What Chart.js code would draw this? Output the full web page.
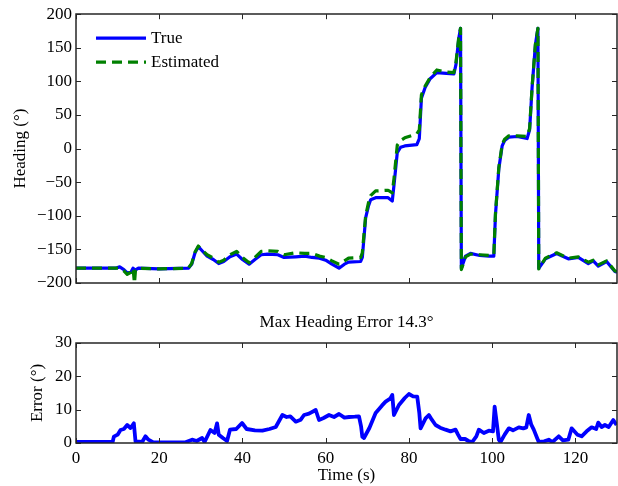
<!DOCTYPE html>
<html><head><meta charset="utf-8">
<script src="https://cdn.jsdelivr.net/npm/chart.js@4"></script>
<style>
html,body{margin:0;padding:0;background:#fff;}
#wrap{position:relative;width:618px;height:486px;background:#fff;}
#c1{position:absolute;left:0;top:0;}
#c2{position:absolute;left:0;top:300px;}
</style></head><body>
<div id="wrap">
<canvas id="c1" width="618" height="300" style="width:618px;height:300px"></canvas>
<canvas id="c2" width="618" height="186" style="width:618px;height:186px"></canvas>
</div>
<script>
// ---------- data ----------
const xTicks = [0, 20, 40, 60, 80, 100, 120];
const headingTicks = [-200, -150, -100, -50, 0, 50, 100, 150, 200];
const errorTicks = [0, 10, 20, 30];

const timeTrue = [0, 9.5, 10.5, 11.5, 12.3, 13.2, 13.7, 14.2, 15, 20, 27, 27.8, 28.6, 29.4, 30.3, 31.5, 33, 34.3, 35.5, 37, 38.6, 40, 41.6, 43, 44.5, 46, 48.5, 50, 52.8, 55, 56.7, 58.5, 60, 61.5, 63.2, 64.5, 65.5, 68.4, 68.8, 69.6, 70.3, 70.8, 72, 75, 76, 76.4, 77.2, 78, 79, 81.9, 82.5, 83, 83.9, 85.1, 86.7, 89, 90.8, 91.3, 92, 92.4, 92.6, 93.6, 94.8, 97, 99.2, 100.4, 100.8, 101.6, 102.4, 103, 104, 106, 108.4, 109, 109.6, 110.4, 111, 111.2, 112.8, 115.5, 118.3, 120.7, 123.1, 124.3, 125.5, 127.5, 129.5, 130];
const headingTrue = [-178, -178, -176, -180, -185, -184, -178, -181, -178, -179, -178, -172, -155, -146, -152, -160, -165, -171, -168, -161, -157, -165, -172, -165, -158, -157, -158, -162, -161, -160, -162, -163, -166, -172, -178, -172, -169, -168, -162, -103, -85, -76, -73, -73, -78, -55, -6, 2, 4, 6, 15, 75, 91, 104, 113, 112, 111, 125, 165, 179, -178, -160, -156, -159, -160, -160, -98, -30, 4, 12, 17, 18, 15, 28, 91, 155, 179, -178, -164, -156, -164, -162, -171, -167, -175, -168, -183, -184];

const timeEst = [0, 9.5, 10.5, 11.5, 12.3, 13.2, 13.7, 14.05, 14.3, 15, 20, 27, 27.8, 28.6, 29.4, 30.3, 31.5, 33, 34.3, 35.5, 37, 38.6, 40, 41.6, 43, 44.5, 46, 48.5, 50, 52.8, 55, 56.7, 58.5, 60, 61.5, 63.2, 64.5, 65.5, 68.4, 68.8, 69.6, 70.3, 70.8, 72, 75, 76, 76.4, 77.2, 78, 79, 81.9, 82.5, 83, 83.9, 85.1, 86.7, 89, 90.8, 91.3, 92, 92.4, 92.6, 93.6, 94.8, 97, 99.2, 100.4, 100.8, 101.6, 102.4, 103, 104, 106, 108.4, 109, 109.6, 110.4, 111, 111.2, 112.8, 115.5, 118.3, 120.7, 123.1, 124.3, 125.5, 127.5, 129.5, 130];
const headingEst = [-178, -178, -178, -182, -187, -184, -178, -200, -181, -178, -179, -178, -171, -154, -145, -151, -158, -163, -169, -166, -158, -153, -162, -170, -162, -153, -152, -153, -158, -155, -156, -156, -160, -162, -167, -172, -167, -163, -162, -155, -100, -80, -70, -63, -62, -66, -45, 5, 12, 16, 22, 28, 80, 93, 106, 117, 114, 113, 128, 167, 179, -180, -161, -157, -158, -159, -158, -96, -28, 6, 14, 19, 19, 18, 30, 92, 156, 179, -179, -163, -155, -163, -161, -169, -166, -173, -167, -182, -183];

const timeErr = [0, 8.8, 9.1, 10.0, 10.7, 11.5, 12.3, 13.1, 13.9, 14.3, 15.9, 16.7, 17.4, 18.6, 26.3, 27.9, 29, 30.3, 30.9, 32.3, 33.3, 33.9, 34.3, 35.3, 36.3, 37, 38.5, 39.9, 41, 43, 44.8, 46.5, 48, 49.6, 50.6, 51.5, 52.8, 54, 54.8, 56, 57.6, 58.4, 59.5, 60.8, 62, 63.2, 64.5, 65.6, 67, 68, 68.5, 68.8, 69.2, 70.5, 72, 73.5, 74.4, 75.5, 76, 76.4, 77.6, 79, 80, 81, 82, 82.5, 82.8, 84, 84.8, 85.5, 86.4, 87.5, 88.8, 90, 91.2, 91.8, 92.4, 93.5, 94.3, 95.2, 96.2, 96.8, 98, 99.2, 100.2, 100.6, 101.1, 101.6, 102, 103, 104, 105, 106.4, 107.5, 108.2, 108.8, 109.4, 110, 110.8, 111.2, 112.5, 113.6, 114.5, 116, 117, 118.3, 119.1, 120.5, 121.5, 122.7, 123.9, 125, 125.5, 126.3, 127.1, 128, 129.1, 129.9];
const errorVals = [0.3, 0.3, 1.9, 2.5, 3.9, 4.2, 5.4, 4.5, 5.9, 0.5, 0.3, 2.0, 1.0, 0.2, 0.2, 1.0, 0.6, 1.5, 0.3, 3.9, 3.0, 5.9, 2.5, 1.5, 0.6, 4.0, 4.2, 6.0, 4.2, 3.8, 3.7, 4.2, 4.8, 8.4, 7.8, 8.0, 6.4, 7.0, 8.4, 8.8, 9.9, 6.9, 7.5, 8.4, 7.8, 8.7, 7.6, 7.8, 7.9, 8.0, 5.0, 1.9, 1.5, 4.5, 9.0, 11.2, 12.4, 13.3, 14.4, 8.4, 11.4, 13.5, 14.7, 14.0, 13.9, 9.0, 4.4, 7.4, 8.4, 7.0, 5.4, 4.6, 4.0, 3.5, 4.0, 2.5, 1.2, 1.2, 0.6, 0.3, 2.0, 4.0, 3.0, 3.7, 3.5, 10.9, 6.0, 1.0, 0.3, 2.5, 4.4, 3.8, 4.7, 4.4, 4.7, 8.4, 5.5, 4.0, 1.5, 0.3, 0.5, 1.0, 0.3, 2.0, 0.8, 1.0, 4.4, 2.5, 2.0, 3.5, 4.7, 4.2, 6.1, 4.8, 5.4, 4.8, 6.9, 5.4];

const titleText = 'Max Heading Error 14.3°';

// ---------- helpers ----------
const FONT = "'Liberation Serif', 'Times New Roman', serif";
Chart.defaults.font.family = FONT;
Chart.defaults.font.size = 17;
Chart.defaults.color = '#000';
const pts = (xs, ys) => xs.map((x, i) => ({x: x, y: ys[i]}));
const fmt = v => (v < 0 ? '\u2212' + Math.abs(v) : String(v));
const setTicks = arr => (scale) => { scale.ticks = arr.map(v => ({value: v})); };

const framePlugin = {
  id: 'frame',
  afterDraw(chart) {
    const {ctx, chartArea: a} = chart;
    const xs = chart.scales.x, ys = chart.scales.y;
    const L = 5;
    ctx.save();
    ctx.strokeStyle = '#262626';
    ctx.lineWidth = 1;
    ctx.beginPath();
    xs.ticks.forEach(t => {
      const p = Math.round(xs.getPixelForValue(t.value)) + 0.5;
      ctx.moveTo(p, a.bottom); ctx.lineTo(p, a.bottom - L);
      ctx.moveTo(p, a.top); ctx.lineTo(p, a.top + L);
    });
    ys.ticks.forEach(t => {
      const p = Math.round(ys.getPixelForValue(t.value)) + 0.5;
      ctx.moveTo(a.left, p); ctx.lineTo(a.left + L, p);
      ctx.moveTo(a.right, p); ctx.lineTo(a.right - L, p);
    });
    ctx.stroke();
    ctx.lineWidth = 1.5;
    ctx.strokeRect(Math.round(a.left), Math.round(a.top), Math.round(a.right - a.left), Math.round(a.bottom - a.top));
    ctx.restore();
  }
};

const legendPlugin = {
  id: 'inlegend',
  afterDraw(chart) {
    const {ctx, chartArea: a} = chart;
    const x0 = a.left + 20, x1 = a.left + 70, tx = a.left + 75;
    const rows = [a.top + 24, a.top + 48];
    ctx.save();
    chart.data.datasets.forEach((ds, i) => {
      const y = rows[i];
      ctx.strokeStyle = ds.borderColor;
      ctx.lineWidth = ds.borderWidth;
      ctx.setLineDash(ds.borderDash || []);
      ctx.beginPath(); ctx.moveTo(x0, y); ctx.lineTo(x1, y); ctx.stroke();
      ctx.setLineDash([]);
      ctx.fillStyle = '#000';
      ctx.font = '17px ' + FONT;
      ctx.textBaseline = 'middle';
      ctx.textAlign = 'left';
      ctx.fillText(ds.label, tx, y);
    });
    ctx.restore();
  }
};

// ---------- top chart ----------
new Chart(document.getElementById('c1'), {
  type: 'line',
  data: {
    datasets: [
      {label: 'True', data: pts(timeTrue, headingTrue), borderColor: '#0000ff', borderWidth: 3.2, borderJoinStyle: 'round', pointRadius: 0, tension: 0, order: 2},
      {label: 'Estimated', data: pts(timeEst, headingEst), borderColor: '#008000', borderWidth: 3.2, borderJoinStyle: 'round', borderDash: [10, 6], pointRadius: 0, tension: 0, order: 1}
    ]
  },
  options: {
    responsive: false, animation: false,
    layout: {padding: {top: 9, right: 1, left: 0, bottom: 0}},
    plugins: {legend: {display: false}, tooltip: {enabled: false}},
    scales: {
      x: {type: 'linear', min: 0, max: 130,
          afterBuildTicks: setTicks(xTicks),
          afterFit: s => { s.height = 17; },
          ticks: {display: false},
          grid: {display: false}, border: {display: false}},
      y: {type: 'linear', min: -200, max: 200,
          afterBuildTicks: setTicks(headingTicks),
          afterFit: s => { s.width = 76; },
          ticks: {padding: 4, callback: v => fmt(v), font: {size: 17}},
          title: {display: true, text: 'Heading (°)', font: {size: 17}, padding: {top: 10, bottom: 0}},
          grid: {display: false, drawTicks: false}, border: {display: false}}
    }
  },
  plugins: [framePlugin, legendPlugin]
});

// ---------- bottom chart ----------
new Chart(document.getElementById('c2'), {
  type: 'line',
  data: {
    datasets: [
      {label: 'Error', data: pts(timeErr, errorVals), borderColor: '#0000ff', borderWidth: 3.8, borderJoinStyle: 'round', pointRadius: 0, tension: 0}
    ]
  },
  options: {
    responsive: false, animation: false,
    layout: {padding: {top: 0, right: 1, left: 0, bottom: 0}},
    plugins: {
      legend: {display: false}, tooltip: {enabled: false},
      title: {display: true, fullSize: false, text: titleText, font: {size: 17, weight: 'normal'}, color: '#000', padding: {top: 12.8, bottom: 9.8}}
    },
    scales: {
      x: {type: 'linear', min: 0, max: 130,
          afterBuildTicks: setTicks(xTicks),
          afterFit: s => { s.height = 43; },
          ticks: {padding: 5, maxRotation: 0, font: {size: 17}},
          title: {display: true, text: 'Time (s)', font: {size: 17}, padding: {top: 0, bottom: 0}},
          grid: {display: false, drawTicks: false}, border: {display: false}},
      y: {type: 'linear', min: 0, max: 30,
          afterBuildTicks: setTicks(errorTicks),
          afterFit: s => { s.width = 76; },
          ticks: {padding: 4, font: {size: 17}},
          title: {display: true, text: 'Error (°)', font: {size: 17}, padding: {top: 27, bottom: 0}},
          grid: {display: false, drawTicks: false}, border: {display: false}}
    }
  },
  plugins: [framePlugin]
});
</script>
</body></html>
